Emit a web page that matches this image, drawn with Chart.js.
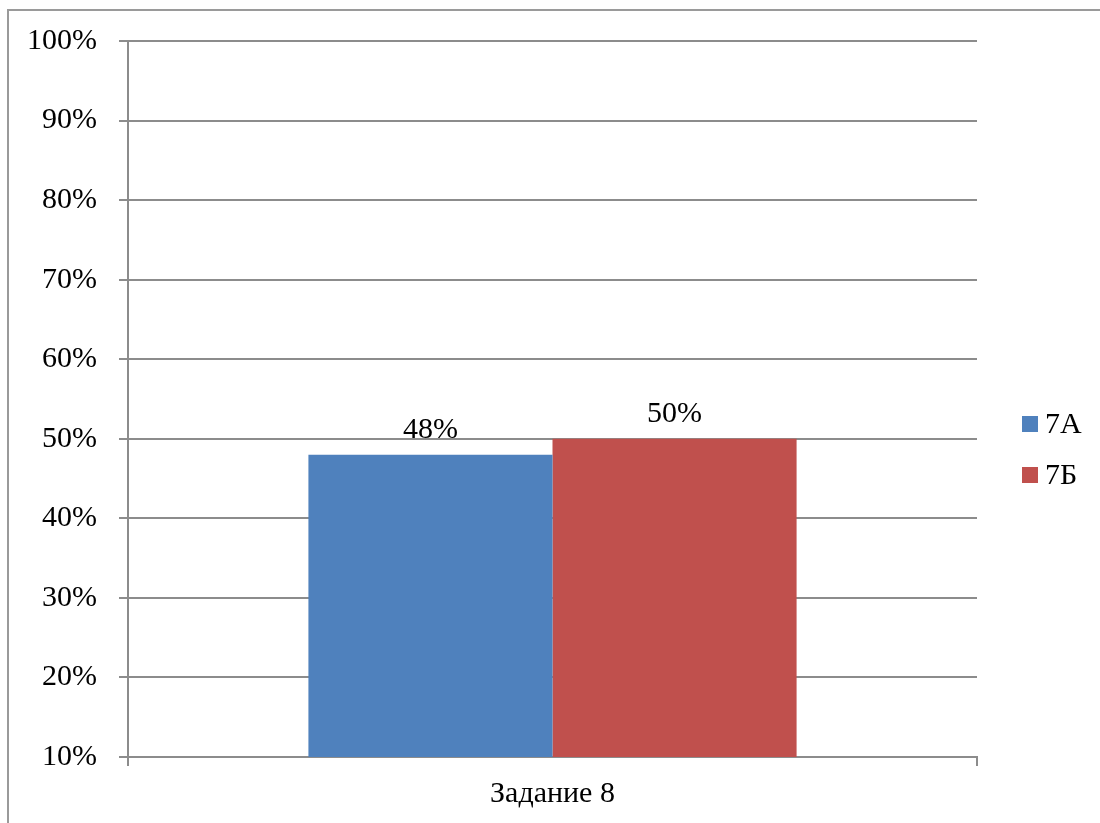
<!DOCTYPE html>
<html>
<head>
<meta charset="utf-8">
<script src="https://cdn.jsdelivr.net/npm/chart.js@4/dist/chart.umd.min.js"></script>
<style>
  html, body { margin: 0; padding: 0; background: #fff; overflow: hidden; }
</style>
</head>
<body>
<canvas id="chart" width="1100" height="823"></canvas>
<script>
// Chart data
const categories = ['Задание 8'];
const seriesNames = ['7А', '7Б'];
const values7A = [0.48];
const values7B = [0.50];
const seriesColors = ['#4F81BD', '#C0504D'];
const yTicks = [0.1, 0.2, 0.3, 0.4, 0.5, 0.6, 0.7, 0.8, 0.9, 1.0];

const FONT = '"Liberation Serif", "Times New Roman", serif';
const FONT_SIZE = 30;

// Outer frame of the embedded chart (only its left and top edges are visible)
const frame = {
  id: 'frame',
  beforeDraw(chart) {
    const ctx = chart.ctx;
    ctx.save();
    ctx.strokeStyle = '#9a9a9a';
    ctx.lineWidth = 2;
    ctx.beginPath();
    ctx.moveTo(8, chart.height);
    ctx.lineTo(8, 10);
    ctx.lineTo(chart.width, 10);
    ctx.stroke();
    ctx.restore();
  }
};

// Value labels above bars
const barLabels = {
  id: 'barLabels',
  afterDatasetsDraw(chart) {
    const ctx = chart.ctx;
    ctx.save();
    ctx.font = FONT_SIZE + 'px ' + FONT;
    ctx.fillStyle = '#000';
    ctx.textAlign = 'center';
    ctx.textBaseline = 'alphabetic';
    chart.data.datasets.forEach((ds, i) => {
      chart.getDatasetMeta(i).data.forEach((bar, j) => {
        ctx.fillText(Math.round(ds.data[j] * 100) + '%', bar.x, bar.y - 17);
      });
    });
    ctx.restore();
  }
};

// Legend on the right, drawn by hand
const sideLegend = {
  id: 'sideLegend',
  afterDraw(chart) {
    const ctx = chart.ctx;
    ctx.save();
    ctx.font = FONT_SIZE + 'px ' + FONT;
    ctx.textBaseline = 'middle';
    chart.data.datasets.forEach((ds, i) => {
      const y = 424 + i * 51;
      ctx.fillStyle = ds.backgroundColor;
      ctx.fillRect(1022, y - 8, 16, 16);
      ctx.fillStyle = '#000';
      ctx.fillText(ds.label, 1045, y + 1);
    });
    ctx.restore();
  }
};

const ctx = document.getElementById('chart').getContext('2d');
new Chart(ctx, {
  type: 'bar',
  data: {
    labels: categories,
    datasets: [
      { label: seriesNames[0], data: values7A, backgroundColor: seriesColors[0] },
      { label: seriesNames[1], data: values7B, backgroundColor: seriesColors[1] },
    ],
  },
  options: {
    responsive: false,
    animation: false,
    devicePixelRatio: 1,
    categoryPercentage: 0.575,
    barPercentage: 1.0,
    layout: { padding: { top: 41, right: 123, bottom: 0, left: 0 } },
    plugins: {
      legend: { display: false },
      tooltip: { enabled: false },
    },
    scales: {
      x: {
        grid: { offset: true, drawOnChartArea: false, color: '#8c8c8c', lineWidth: 2, tickLength: 9 },
        border: { color: '#8c8c8c', width: 2 },
        ticks: { color: '#000', font: { family: FONT, size: FONT_SIZE }, padding: 10 },
        afterFit(scale) { scale.height = 66; },
      },
      y: {
        min: 0.1,
        max: 1.0,
        afterBuildTicks(scale) { scale.ticks = yTicks.map((v) => ({ value: v })); },
        grid: { color: '#8c8c8c', lineWidth: 2, tickLength: 9 },
        border: { color: '#8c8c8c', width: 2 },
        ticks: {
          color: '#000',
          font: { family: FONT, size: FONT_SIZE },
          padding: 22,
          callback: (v) => Math.round(v * 100) + '%',
        },
        afterFit(scale) { scale.width = 128; },
      },
    },
  },
  plugins: [frame, barLabels, sideLegend],
});
</script>
</body>
</html>
